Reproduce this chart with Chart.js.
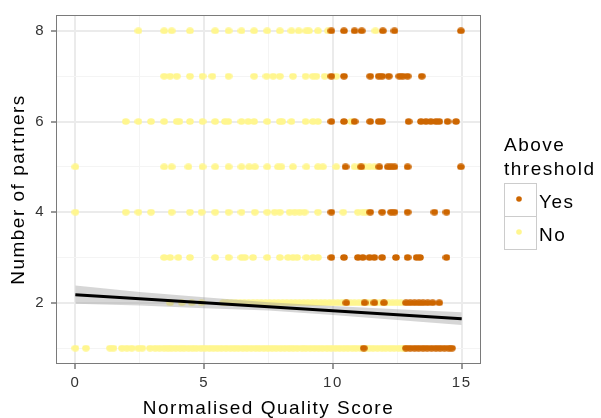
<!DOCTYPE html>
<html>
<head>
<meta charset="utf-8">
<script src="https://cdn.jsdelivr.net/npm/chart.js@4.4.0/dist/chart.umd.min.js"></script>
<style>
html, body { margin: 0; padding: 0; background: #fff; }
canvas { display: block; }
</style>
</head>
<body>
<canvas id="chart" width="601" height="418"></canvas>
<script>
// partner counts (y rows)
var partners = [1, 2, 3, 4, 5, 6, 7, 8];

// quality scores of the "No" points, one array per partner count
var noP1 = [0, 0.41, 1.35, 1.48, 1.81, 2.0, 2.19, 2.45, 2.6, 2.9, 3.1, 3.27, 3.45, 3.6, 3.74, 3.9, 4.07, 4.22, 4.39,
  4.55, 4.7, 4.88, 5.03, 5.2, 5.36, 5.52, 5.68, 5.85, 6.02, 6.18, 6.33, 6.5, 6.66, 6.83, 7.0, 7.15, 7.32, 7.48,
  7.64, 7.8, 7.97, 8.13, 8.3, 8.46, 8.62, 8.8, 8.95, 9.12, 9.28, 9.44, 9.6, 9.77, 9.93, 10.1, 10.26, 10.42,
  10.58, 10.75, 10.9, 11.07, 11.24, 11.4, 11.56, 11.73, 11.9, 12.05, 12.22, 12.38, 12.55, 12.7, 12.78];
var noP2 = [3.68, 4.13, 4.52, 4.9, 5.74, 5.9, 6.07, 6.23, 6.4, 6.56, 6.73, 6.9, 7.06, 7.22, 7.39, 7.55, 7.72, 7.88,
  8.05, 8.21, 8.38, 8.54, 8.7, 8.87, 9.03, 9.2, 9.36, 9.53, 9.69, 9.86, 10.02, 10.19, 10.35, 10.51, 10.68, 10.84,
  11.01, 11.17, 11.34, 11.5, 11.66, 11.83, 11.99, 12.16, 12.32, 12.48, 12.64];
var noP3 = [3.45, 3.68, 4.0, 4.45, 5.43, 5.95, 6.45, 6.58, 6.9, 7.45, 7.94, 8.26, 8.45, 8.61, 8.97, 9.23, 9.42];
var noP4 = [0, 1.96, 2.45, 2.94, 3.74, 4.45, 4.9, 5.43, 5.95, 6.45, 6.97, 7.45, 7.74, 7.94, 8.32, 8.52, 8.71, 8.9,
  9.42, 10.4, 10.97, 11.16, 11.29];
var noP5 = [0, 3.45, 3.74, 4.39, 4.94, 5.43, 5.95, 6.45, 6.75, 6.97, 7.45, 7.87, 8.0, 8.45, 8.97, 9.42, 9.61, 10.13,
  10.84, 11.03, 11.23, 11.42, 11.61];
var noP6 = [1.96, 2.45, 2.94, 3.45, 3.94, 4.04, 4.45, 4.94, 5.43, 5.81, 5.94, 6.45, 6.71, 6.94, 7.45, 7.94, 8.03,
  8.39, 8.94, 9.23, 9.42, 10.71];
var noP7 = [3.45, 3.68, 3.94, 4.45, 4.94, 5.32, 5.95, 6.94, 7.42, 7.68, 7.94, 8.45, 8.94, 9.23, 9.36, 9.68, 10.13];
var noP8 = [2.45, 3.45, 3.74, 4.45, 5.43, 5.95, 6.45, 6.94, 7.45, 7.94, 8.39, 8.67, 8.97, 9.07, 9.42, 9.81, 11.65];

// quality scores of the "Yes" points
var yesP1 = [11.2, 12.84, 13.0, 13.17, 13.33, 13.5, 13.66, 13.83, 14.0, 14.16, 14.33, 14.5, 14.62];
var yesP2 = [10.52, 11.23, 11.61, 11.98, 12.84, 13.0, 13.17, 13.34, 13.5, 13.68, 13.87, 14.13];
var yesP3 = [9.94, 10.43, 10.97, 11.16, 11.42, 11.61, 11.91, 12.45, 12.9, 13.25, 13.38, 14.41];
var yesP4 = [9.94, 11.45, 11.91, 12.26, 12.39, 12.9, 13.94, 14.41];
var yesP5 = [10.49, 11.1, 11.8, 12.13, 12.26, 12.39, 12.9, 14.97];
var yesP6 = [9.94, 10.43, 10.84, 11.45, 11.78, 11.91, 12.94, 13.42, 13.61, 13.8, 14.0, 14.13, 14.45, 14.78];
var yesP7 = [9.94, 10.43, 11.45, 11.78, 11.91, 12.17, 12.58, 12.71, 12.9, 13.45];
var yesP8 = [9.94, 10.43, 10.84, 11.12, 11.94, 12.39, 14.97];

// linear fit and its confidence band
var fitX = [0, 15];
var fitY = [2.18, 1.65];
var bandX = [0, 2.5, 5, 7.5, 10, 12.5, 15];
var bandUpper = [2.38, 2.24, 2.12, 2.01, 1.93, 1.86, 1.79];
var bandLower = [1.98, 1.94, 1.88, 1.83, 1.73, 1.62, 1.51];

// axes
var xTicks = [0, 2.5, 5, 7.5, 10, 12.5, 15];
var yTicks = [1, 2, 3, 4, 5, 6, 7, 8];

var legendTitle = ['Above', 'threshold'];
var legendLabels = ['Yes', 'No'];
var colYes = '#CD6600';
var colNo = '#FFF68F';

var FONT = '"Liberation Sans", Arial, sans-serif';

function toPoints(rows) {
  var pts = [];
  rows.forEach(function(row, i) {
    row.forEach(function(v) { pts.push({x: v, y: partners[i]}); });
  });
  return pts;
}
function pairs(xs, ys) {
  return xs.map(function(v, i) { return {x: v, y: ys[i]}; });
}
function dotImage(color) {
  var c = document.createElement('canvas');
  c.width = 8; c.height = 7;
  var g = c.getContext('2d');
  g.fillStyle = color;
  g.beginPath();
  g.ellipse(4, 3.5, 3.8, 3.2, 0, 0, Math.PI * 2);
  g.fill();
  return c;
}

var spacing = {
  id: 'spacing',
  beforeDraw: function(chart) { chart.ctx.letterSpacing = '1.5px'; }
};

var panelBorder = {
  id: 'panelBorder',
  afterDraw: function(chart) {
    var a = chart.chartArea, ctx = chart.ctx;
    ctx.save();
    ctx.strokeStyle = '#7A7A7A';
    ctx.lineWidth = 1;
    ctx.strokeRect(Math.round(a.left) + 0.5, Math.round(a.top) + 0.5,
      Math.round(a.right - a.left) - 1, Math.round(a.bottom - a.top) - 1);
    ctx.restore();
  }
};

var ggLegend = {
  id: 'ggLegend',
  afterDraw: function(chart) {
    var ctx = chart.ctx;
    var colors = [colYes, colNo];
    ctx.save();
    ctx.font = '19px ' + FONT;
    ctx.textAlign = 'left';
    ctx.textBaseline = 'alphabetic';
    ctx.fillStyle = '#000';
    ctx.fillText(legendTitle[0], 504, 151);
    ctx.fillText(legendTitle[1], 504, 174.5);
    legendLabels.forEach(function(lbl, i) {
      var top = 183 + i * 33;
      ctx.fillStyle = '#fff';
      ctx.fillRect(504, top, 32, 33);
      ctx.strokeStyle = '#CCCCCC';
      ctx.lineWidth = 1;
      ctx.strokeRect(504.5, top + 0.5, 32, 33);
      ctx.fillStyle = colors[i];
      ctx.beginPath();
      ctx.arc(519, top + 16, 2.8, 0, Math.PI * 2);
      ctx.fill();
      ctx.fillStyle = '#000';
      ctx.fillText(lbl, 539, top + 25 - i * 0.5);
    });
    ctx.restore();
  }
};

function isMajorX(c) { return c.tick && c.tick.value % 5 === 0; }
function isMajorY(c) { return c.tick && c.tick.value % 2 === 0; }

var ctx = document.getElementById('chart').getContext('2d');
var chart = new Chart(ctx, {
  type: 'scatter',
  data: {
    datasets: [{
      label: 'fit',
      data: pairs(fitX, fitY),
      showLine: true,
      borderColor: '#000',
      borderWidth: 3,
      pointRadius: 0,
      fill: false,
      order: 0
    }, {
      label: 'upper',
      data: pairs(bandX, bandUpper),
      showLine: true,
      borderWidth: 0,
      borderColor: 'rgba(0,0,0,0)',
      backgroundColor: 'rgba(153,153,153,0.4)',
      pointRadius: 0,
      fill: '+1',
      order: 1
    }, {
      label: 'lower',
      data: pairs(bandX, bandLower),
      showLine: true,
      borderWidth: 0,
      borderColor: 'rgba(0,0,0,0)',
      pointRadius: 0,
      fill: false,
      order: 1
    }, {
      label: legendLabels[0],
      data: toPoints([yesP1, yesP2, yesP3, yesP4, yesP5, yesP6, yesP7, yesP8]),
      pointStyle: dotImage(colYes),
      pointRadius: 3,
      order: 2
    }, {
      label: legendLabels[1],
      data: toPoints([noP1, noP2, noP3, noP4, noP5, noP6, noP7, noP8]),
      pointStyle: dotImage(colNo),
      pointRadius: 3,
      order: 3
    }]
  },
  options: {
    responsive: false,
    animation: false,
    devicePixelRatio: 1,
    layout: { padding: { left: 0, top: 14, right: 120, bottom: 0 } },
    plugins: {
      legend: { display: false },
      tooltip: { enabled: false }
    },
    scales: {
      x: {
        type: 'linear',
        min: -0.75,
        max: 15.75,
        afterBuildTicks: function(axis) {
          axis.ticks = xTicks.map(function(v) { return {value: v}; });
        },
        afterFit: function(axis) { axis.height = 54; },
        border: { display: false },
        grid: {
          color: function(c) { return isMajorX(c) ? '#EBEBEB' : '#F4F4F4'; },
          lineWidth: function(c) { return isMajorX(c) ? 2 : 1; },
          tickColor: function(c) { return isMajorX(c) ? '#333333' : 'rgba(0,0,0,0)'; },
          tickWidth: 1,
          tickLength: 5
        },
        ticks: {
          autoSkip: false,
          maxRotation: 0,
          padding: 5,
          color: '#333333',
          font: { family: FONT, size: 15 },
          callback: function(v) { return v % 5 === 0 ? String(v) : ''; }
        },
        title: {
          display: true,
          text: 'Normalised Quality Score',
          color: '#000',
          font: { family: FONT, size: 19, lineHeight: 1 },
          padding: { top: 0, bottom: 0 }
        }
      },
      y: {
        type: 'linear',
        min: 0.65,
        max: 8.35,
        afterBuildTicks: function(axis) {
          axis.ticks = yTicks.map(function(v) { return {value: v}; });
        },
        afterFit: function(axis) { axis.width = 56; },
        border: { display: false },
        grid: {
          color: function(c) { return isMajorY(c) ? '#EBEBEB' : '#F4F4F4'; },
          lineWidth: function(c) { return isMajorY(c) ? 2 : 1; },
          tickColor: function(c) { return isMajorY(c) ? '#333333' : 'rgba(0,0,0,0)'; },
          tickWidth: 1,
          tickLength: 5
        },
        ticks: {
          autoSkip: false,
          padding: 6,
          color: '#333333',
          font: { family: FONT, size: 15 },
          callback: function(v) { return v % 2 === 0 ? String(v) : ''; }
        },
        title: {
          display: true,
          text: 'Number of partners',
          color: '#000',
          font: { family: FONT, size: 19, lineHeight: 1 },
          padding: { top: 9, bottom: 0 }
        }
      }
    }
  },
  plugins: [spacing, panelBorder, ggLegend]
});
</script>
</body>
</html>
